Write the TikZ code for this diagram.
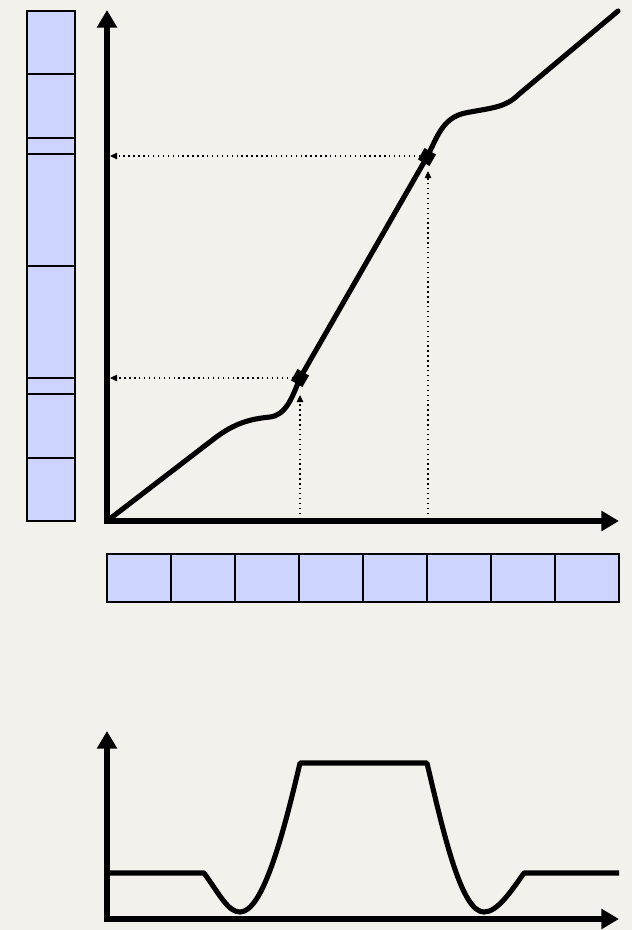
\documentclass[tikz,border=0pt]{standalone}
\usetikzlibrary{arrows.meta}
\definecolor{bg}{RGB}{243,241,236}
\definecolor{cellblue}{RGB}{204,212,255}
\begin{document}
\begin{tikzpicture}[x=0.02cm,y=-0.02cm,
  axis/.style={line width=2.9pt,{Triangle[length=10pt,width=11pt]}-{Triangle[length=10pt,width=11pt]}},
  curve/.style={line width=2.9pt,line join=round,line cap=round},
  guide/.style={line width=0.8pt,dotted,-{Triangle[length=4pt,width=3.6pt]}},
  cell/.style={draw=black,line width=0.8pt,fill=cellblue},
  marker/.style={fill=black,inner sep=0pt,minimum size=7.5pt,rotate=60}]
\fill[bg] (0,0) rectangle (632,930);
\useasboundingbox (0,0) rectangle (632,930);
% left bar
\foreach \a/\b in {11/74,74/138,138/154,154/266,266/378,378/394,394/458,458/521}
  \draw[cell] (27,\a) rectangle (75,\b);
% bottom bar
\foreach \i in {0,...,7}
  \draw[cell] ({107+64*\i},554) rectangle ({171+64*\i},602);
% main axes
\draw[axis] (107,10) -- (107,521) -- (619,521);
% curve
\draw[curve] (107,521) -- (215,438)
  .. controls (235,423) and (250,419) .. (270,417)
  .. controls (286,415) and (292,398) .. (300,378)
  -- (427,157)
  .. controls (437,138) and (442,118) .. (465,113)
  .. controls (490,108) and (505,108) .. (518,95)
  -- (618,11);
% markers
\node[marker] (m1) at (300,378) {};
\node[marker] (m2) at (427,157) {};
\coordinate (y1) at (110,378);
\coordinate (y2) at (110,156);
\coordinate (x1) at (300,519);
\coordinate (x2) at (428,519);
\coordinate (t1) at (300,395);
\coordinate (t2) at (428,171);
\draw[guide] (m1.center) ++(-7,0) -- (y1);
\draw[guide] (m2.center) ++(-7,-1) -- (y2);
\draw[guide] (x1) -- (t1);
\draw[guide] (x2) -- (t2);
% bottom plot
\draw[axis] (107,731) -- (107,919) -- (619,919);
\draw[curve,line cap=butt] (109,873) -- (204,873)
  .. controls (220,895) and (228,912) .. (240,912)
  .. controls (262,912) and (282,840) .. (300,763)
  -- (427,763)
  .. controls (445,840) and (462,912) .. (484,912)
  .. controls (497,912) and (510,893) .. (524,873)
  -- (619,873);
\end{tikzpicture}
\end{document}
